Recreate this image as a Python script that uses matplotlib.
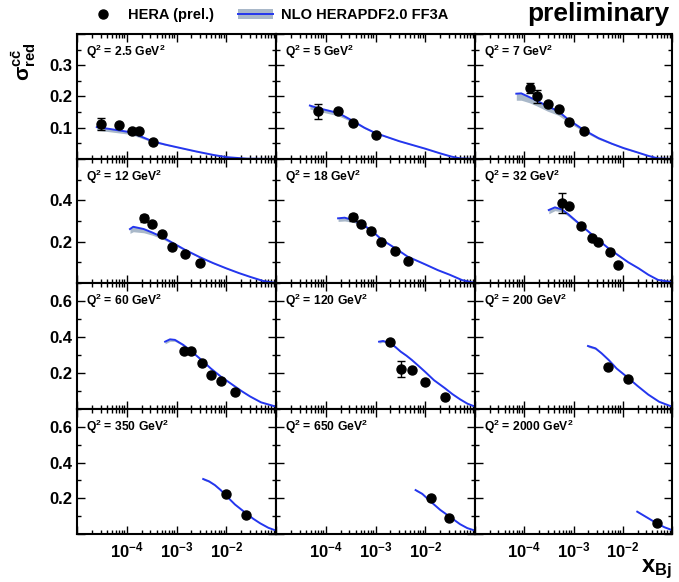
import numpy as np
import matplotlib
matplotlib.use('Agg')
import matplotlib.pyplot as plt
from matplotlib.ticker import FixedLocator, FuncFormatter, MultipleLocator, NullFormatter

plt.rcParams['font.family'] = ['Liberation Sans', 'DejaVu Sans']
plt.rcParams['font.weight'] = 'bold'
plt.rcParams['mathtext.fontset'] = 'custom'
for k in ('rm', 'it', 'bf', 'sf'):
    plt.rcParams['mathtext.' + k] = 'Liberation Sans:bold'
plt.rcParams['mathtext.default'] = 'rm'

# Q^2 bins (GeV^2), one panel each
q2 = ['2.5', '5', '7', '12', '18', '32', '60', '120', '200', '350', '650', '2000']

# HERA (prel.) charm reduced cross sections
data_x = [
    [3e-5, 7e-5, 1.3e-4, 1.8e-4, 3.4e-4],
    [7e-5, 1.8e-4, 3.5e-4, 1e-3],
    [1.3e-4, 1.8e-4, 3e-4, 5e-4, 8e-4, 1.6e-3],
    [2.2e-4, 3.2e-4, 5e-4, 8e-4, 1.5e-3, 3e-3],
    [3.5e-4, 5e-4, 8e-4, 1.3e-3, 2.5e-3, 4.4e-3],
    [5.8e-4, 8e-4, 1.4e-3, 2.4e-3, 3.2e-3, 5.4e-3, 8e-3],
    [1.4e-3, 2e-3, 3.2e-3, 5e-3, 8e-3, 1.5e-2],
    [2e-3, 3.2e-3, 5.4e-3, 1e-2, 2.5e-2],
    [5e-3, 1.3e-2],
    [1e-2, 2.5e-2],
    [1.3e-2, 3e-2],
    [5e-2],
]
data_y = [
    [0.113, 0.109, 0.089, 0.090, 0.053],
    [0.153, 0.152, 0.115, 0.076],
    [0.226, 0.201, 0.176, 0.161, 0.118, 0.088],
    [0.313, 0.285, 0.236, 0.176, 0.140, 0.095],
    [0.318, 0.285, 0.250, 0.197, 0.156, 0.108],
    [0.386, 0.373, 0.276, 0.216, 0.197, 0.148, 0.087],
    [0.322, 0.324, 0.254, 0.189, 0.157, 0.093],
    [0.370, 0.224, 0.215, 0.150, 0.068],
    [0.235, 0.167],
    [0.222, 0.105],
    [0.200, 0.088],
    [0.060],
]
data_err = [
    [0.019, 0, 0, 0, 0],
    [0.024, 0, 0, 0],
    [0.016, 0.021, 0, 0, 0, 0],
    [0.018, 0, 0, 0, 0, 0],
    [0.018, 0, 0, 0, 0, 0],
    [0.048, 0, 0, 0, 0, 0, 0],
    [0, 0, 0, 0, 0, 0],
    [0, 0.044, 0, 0, 0],
    [0, 0],
    [0, 0],
    [0, 0],
    [0],
]

# NLO HERAPDF2.0 FF3A prediction: central line and width of the band below it
curve_x = [
    [2.5e-5, 4.6e-5, 1.16e-4, 2e-4, 3.4e-4, 6e-4, 1e-3, 2.5e-3, 5.5e-3, 1e-2, 2.6e-2, 1e-1],
    [4.8e-5, 7e-5, 1.8e-4, 3.5e-4, 6e-4, 1e-3, 3e-3, 1e-2, 2e-2, 3.3e-2, 5e-2, 1e-1],
    [6.9e-5, 8.7e-5, 1.27e-4, 1.78e-4, 2.97e-4, 4.9e-4, 7.9e-4, 1.58e-3, 3.2e-3, 6e-3, 1.04e-2,
     2e-2, 3.3e-2, 5.2e-2, 1e-1],
    [1.16e-4, 1.35e-4, 2.2e-4, 3.2e-4, 5e-4, 8e-4, 1.5e-3, 3e-3, 5.5e-3, 1e-2, 1.8e-2, 3e-2,
     5.5e-2, 1e-1],
    [1.77e-4, 2.4e-4, 3.5e-4, 4.9e-4, 8e-4, 1.33e-3, 2.5e-3, 4.4e-3, 1e-2, 1.8e-2, 3.1e-2,
     5.5e-2, 1e-1],
    [3.15e-4, 4.2e-4, 5.8e-4, 7.9e-4, 1.4e-3, 3.2e-3, 5e-3, 8e-3, 1.3e-2, 2.1e-2, 3.3e-2,
     5.2e-2, 1e-1],
    [5.9e-4, 7.4e-4, 9.3e-4, 1.37e-3, 2e-3, 3.2e-3, 4.9e-3, 7.8e-3, 1.5e-2, 2.1e-2, 3e-2,
     5e-2, 1e-1],
    [1.18e-3, 1.42e-3, 1.96e-3, 2.5e-3, 3.2e-3, 4.2e-3, 5.4e-3, 7.3e-3, 9.9e-3, 1.5e-2, 2.5e-2,
     3.5e-2, 5e-2, 7e-2, 1e-1],
    [1.97e-3, 2.8e-3, 3.7e-3, 5.2e-3, 7.5e-3, 1.26e-2, 2e-2, 3.3e-2, 5.5e-2, 1e-1],
    [3.44e-3, 4.5e-3, 5.9e-3, 7.8e-3, 9.9e-3, 1.5e-2, 2.5e-2, 3.5e-2, 4.8e-2, 7e-2, 1e-1],
    [6.4e-3, 8.7e-3, 1.29e-2, 2e-2, 3.1e-2, 5e-2, 7e-2, 1e-1],
    [1.97e-2, 3e-2, 4.9e-2, 7e-2, 1e-1],
]
curve_y = [
    [0.102, 0.096, 0.086, 0.071, 0.056, 0.046, 0.038, 0.024, 0.013, 0.006, 0.001, 0.0],
    [0.171, 0.163, 0.147, 0.122, 0.100, 0.083, 0.057, 0.033, 0.018, 0.008, 0.002, 0.0],
    [0.209, 0.210, 0.198, 0.187, 0.169, 0.153, 0.126, 0.094, 0.067, 0.049, 0.035,
     0.021, 0.010, 0.002, 0.0],
    [0.261, 0.272, 0.261, 0.245, 0.224, 0.197, 0.160, 0.124, 0.096, 0.071, 0.048, 0.030,
     0.010, 0.0],
    [0.313, 0.316, 0.305, 0.289, 0.258, 0.210, 0.168, 0.128, 0.090, 0.062, 0.040,
     0.014, 0.0],
    [0.353, 0.366, 0.356, 0.332, 0.281, 0.208, 0.170, 0.135, 0.100, 0.071, 0.040,
     0.015, 0.004],
    [0.374, 0.387, 0.384, 0.356, 0.320, 0.272, 0.225, 0.180, 0.125, 0.097, 0.070,
     0.037, 0.013],
    [0.374, 0.378, 0.366, 0.345, 0.319, 0.296, 0.272, 0.240, 0.207, 0.160, 0.115,
     0.083, 0.054, 0.030, 0.013],
    [0.350, 0.337, 0.310, 0.272, 0.225, 0.175, 0.128, 0.080, 0.040, 0.013],
    [0.308, 0.295, 0.274, 0.245, 0.215, 0.165, 0.116, 0.085, 0.060, 0.035, 0.019],
    [0.246, 0.225, 0.181, 0.135, 0.097, 0.055, 0.033, 0.019],
    [0.125, 0.095, 0.060, 0.038, 0.022],
]
band_w = [
    [0.010, 0.009, 0.007, 0.005, 0.003, 0.002, 0.001, 0.001, 0.001, 0.001, 0.001, 0.0],
    [0.011, 0.010, 0.009, 0.005, 0.003, 0.002, 0.001, 0.001, 0.001, 0.001, 0.0, 0.0],
    [0.021, 0.022, 0.018, 0.017, 0.016, 0.013, 0.009, 0.006, 0.004, 0.002, 0.002,
     0.001, 0.001, 0.001, 0.0],
    [0.021, 0.024, 0.018, 0.013, 0.009, 0.007, 0.005, 0.003, 0.002, 0.002, 0.001, 0.001,
     0.001, 0.0],
    [0.015, 0.016, 0.011, 0.008, 0.006, 0.004, 0.003, 0.002, 0.002, 0.001, 0.001,
     0.001, 0.0],
    [0.018, 0.016, 0.012, 0.010, 0.007, 0.004, 0.003, 0.003, 0.002, 0.002, 0.001,
     0.001, 0.001],
    [0.012, 0.011, 0.008, 0.006, 0.005, 0.004, 0.003, 0.002, 0.002, 0.001, 0.001,
     0.001, 0.001],
    [0.008, 0.007, 0.005, 0.005, 0.004, 0.003, 0.003, 0.002, 0.002, 0.002, 0.001,
     0.001, 0.001, 0.001, 0.001],
    [0.007, 0.006, 0.004, 0.004, 0.003, 0.002, 0.002, 0.001, 0.001, 0.001],
    [0.006, 0.005, 0.004, 0.003, 0.003, 0.002, 0.001, 0.001, 0.001, 0.001, 0.001],
    [0.005, 0.004, 0.002, 0.002, 0.001, 0.001, 0.001, 0.001],
    [0.003, 0.002, 0.001, 0.001, 0.001],
]

row_ymax = [0.4, 0.6, 0.7, 0.7]
row_step = [0.1, 0.2, 0.2, 0.2]

W, H = 679, 582
fig = plt.figure(figsize=(W / 100, H / 100), dpi=100)

col_left = [77, 276, 475]
col_w = [199, 199, 197]
row_top = [34, 159, 283, 409]
row_h = [125, 124, 126, 125]

line_c = '#2436ee'
band_c = '#a9b8c9'

for i in range(12):
    r, c = divmod(i, 3)
    ax = fig.add_axes([col_left[c] / W, 1 - (row_top[r] + row_h[r]) / H,
                       col_w[c] / W, row_h[r] / H])
    ax.set_xscale('log')
    ax.set_xlim(1e-5, 1e-1)
    ax.set_ylim(0, row_ymax[r])

    cx = np.array(curve_x[i])
    cy = np.array(curve_y[i])
    ax.fill_between(cx, cy - np.array(band_w[i]), cy, color=band_c, lw=0, zorder=1)
    ax.plot(cx, cy, color=line_c, lw=1.4, zorder=2)

    x = np.array(data_x[i])
    y = np.array(data_y[i])
    e = np.array(data_err[i])
    m = e > 0
    if m.any():
        ax.errorbar(x[m], y[m], yerr=e[m], fmt='none', ecolor='black',
                    elinewidth=1.0, capsize=3, capthick=1.0, zorder=3)
    ax.plot(x, y, 'o', color='black', ms=6.5, zorder=4)

    ax.text(0.045, 0.93, 'Q$^2$ = ' + q2[i] + ' GeV$^2$', transform=ax.transAxes,
            fontsize=8.7, fontweight='bold', va='top', ha='left')

    # ticks
    ymax = row_ymax[r]
    step = row_step[r]
    ax.yaxis.set_major_locator(MultipleLocator(step))
    ax.yaxis.set_minor_locator(MultipleLocator(step / 2))
    ax.xaxis.set_major_locator(FixedLocator([1e-5, 1e-4, 1e-3, 1e-2, 1e-1]))
    minors = [k * 10.0 ** p for p in range(-5, -1) for k in range(2, 10)]
    ax.xaxis.set_minor_locator(FixedLocator(minors))
    ax.xaxis.set_minor_formatter(NullFormatter())
    ax.tick_params(which='both', direction='in', top=True, right=True,
                   labelsize=12, width=1.0)
    ax.tick_params(which='major', length=5.8)
    ax.tick_params(which='minor', length=2.9)
    ax.tick_params(axis='y', pad=3.5)
    ax.tick_params(axis='x', pad=5)

    if c == 0:
        ax.yaxis.set_major_formatter(FuncFormatter(
            lambda v, p, top=ymax: '' if v < 1e-6 or v > top - 1e-6 else f'{v:.1f}'))
    else:
        ax.yaxis.set_major_formatter(NullFormatter())
    if r == 3:
        ax.xaxis.set_major_formatter(FuncFormatter(
            lambda v, p: '' if v < 5e-5 or v > 5e-2 else r'10$^{%d}$' % round(np.log10(v))))
    else:
        ax.xaxis.set_major_formatter(NullFormatter())
    for s in ax.spines.values():
        s.set_linewidth(1.5)

# legend and annotations in pixel coordinates
ov = fig.add_axes([0, 0, 1, 1], zorder=10)
ov.set_xlim(0, W)
ov.set_ylim(H, 0)
ov.axis('off')
ov.plot([103], [14], 'o', color='black', ms=6.5)
ov.text(128, 19, 'HERA (prel.)', fontsize=10.5, fontweight='bold', va='baseline')
ov.add_patch(plt.Rectangle((238, 9), 35, 10, color=band_c, lw=0))
ov.plot([238, 273], [14, 14], color=line_c, lw=1.4)
ov.text(281, 19, 'NLO HERAPDF2.0 FF3A', fontsize=10.5, fontweight='bold', va='baseline')
ov.text(669, 21, 'preliminary', fontsize=19, fontweight='bold', va='baseline', ha='right')

fig.text(24 / W, 1 - 62 / H, r'$\sigma^{c\bar{c}}_{red}$', rotation=90, fontsize=15,
         ha='center', va='center')
fig.text(672 / W, 1 - 572 / H, r'x$_{Bj}$', fontsize=17, fontweight='bold',
         ha='right', va='baseline')

fig.savefig('out.png', dpi=100)
